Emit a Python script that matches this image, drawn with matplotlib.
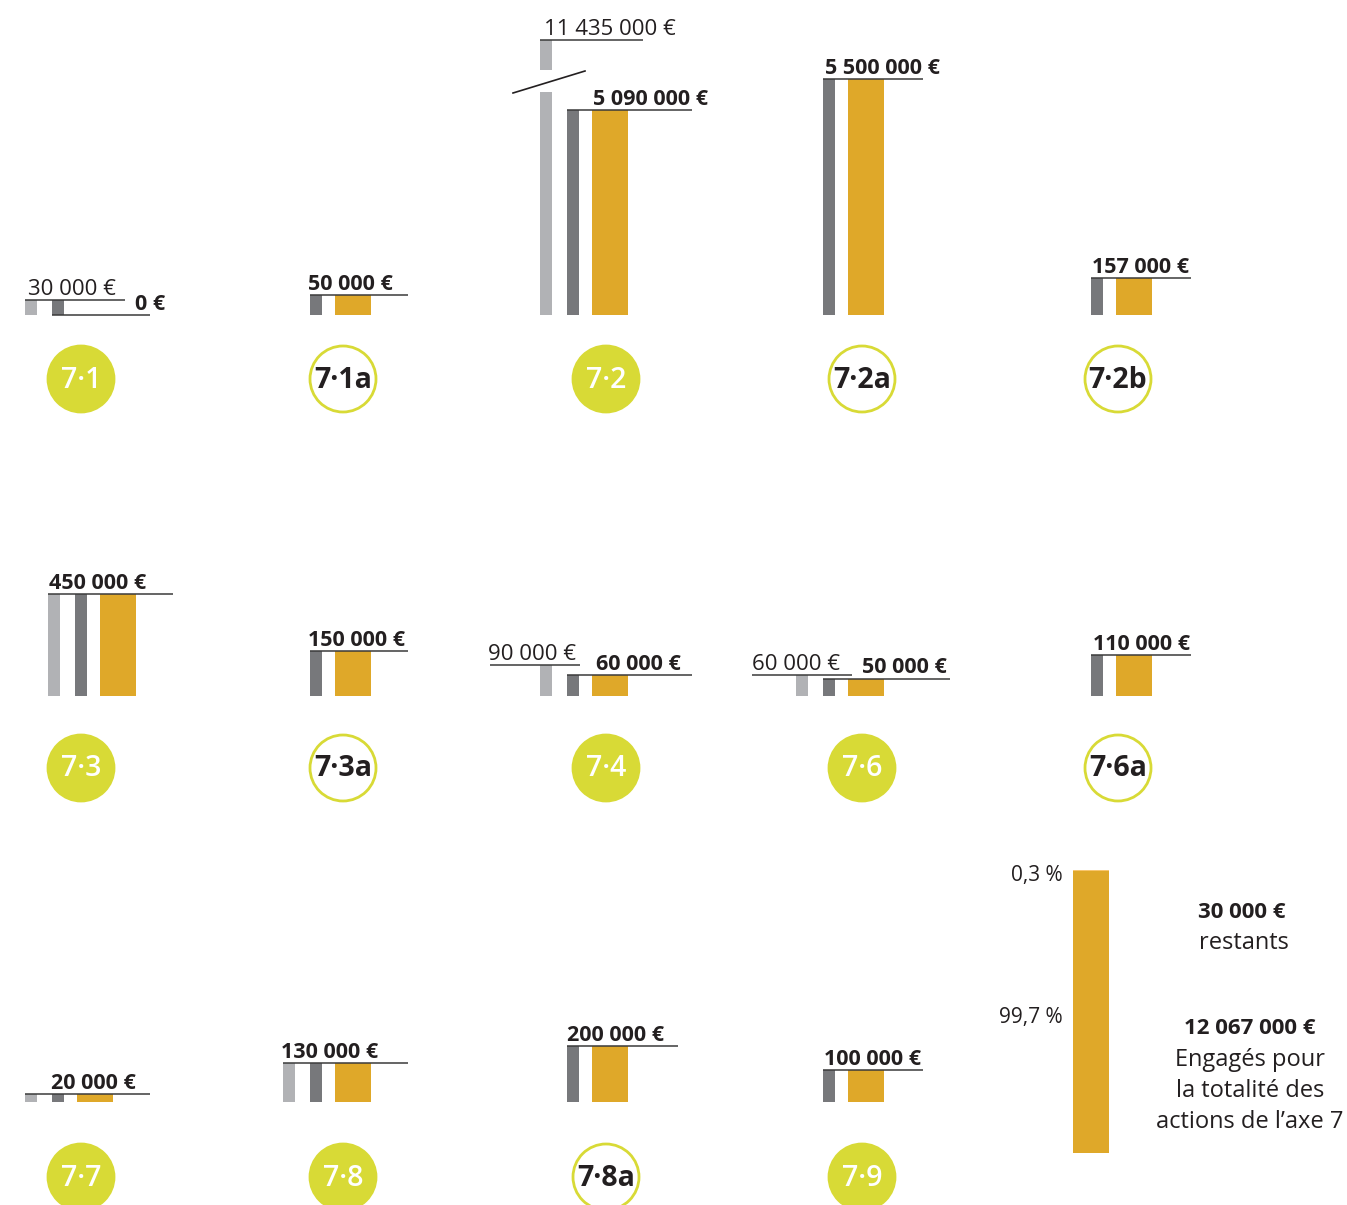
import matplotlib
matplotlib.use("Agg")
import matplotlib.pyplot as plt
from matplotlib.patches import Circle

plt.rcParams['font.family'] = ['Open Sans', 'DejaVu Sans']

W, H = 1347, 1205

# --- data -------------------------------------------------------------
codes = ['7.1', '7.1a', '7.2', '7.2a', '7.2b',
         '7.3', '7.3a', '7.4', '7.6', '7.6a',
         '7.7', '7.8', '7.8a', '7.9']
planned = [30000, None, 11435000, None, None,
           450000, None, 90000, 60000, None,
           20000, 130000, None, None]
revised = [30000, 50000, 5090000, 5500000, 157000,
           450000, 150000, 60000, 50000, 110000,
           20000, 130000, 200000, 100000]
committed = [0, 50000, 5090000, 5500000, 157000,
             450000, 150000, 60000, 50000, 110000,
             20000, 130000, 200000, 100000]

share_values = [99.7, 0.3]
share_labels = ['99,7 %', '0,3 %']
total_committed = 12067000
total_left = 30000

# --- layout (pixels) ----------------------------------------------------
row_of = [0, 0, 0, 0, 0, 1, 1, 1, 1, 1, 2, 2, 2, 2]
baselines = [315, 696, 1102]
circle_rows = [379, 768, 1177]
circle_x = [81, 343, 606, 862, 1118] * 2 + [81, 343, 606, 862]
orange_x = [77, 335, 592, 848, 1116, 100, 335, 592, 848, 1116, 77, 335, 592, 848]
max_px = [15, 20, 205, 236, 37, 102, 45, 31, 21, 41, 8, 39, 56, 32]
line_end = [150, 408, 692, 923, 1191, 173, 408, 692, 950, 1191, 150, 408, 678, 923]
label_x = [135, 308, 593, 825, 1092, 49, 308, 596, 862, 1093, 51, 281, 567, 824]
# separate label for the planned amount: (line start, line end, text x)
planned_line = {0: (25, 125, 28), 2: (544, 643, 544), 7: (490, 580, 488), 8: (752, 852, 752)}
broken = {2: (92, 40, 70)}  # lower axes top, upper part top / bottom

LIGHT = '#b1b2b5'
DARK = '#77787b'
ORANGE = '#dfa829'
PALE = '#f8c66f'
GREEN = '#d8da36'
INK = '#231f20'


def fmt(v):
    return f"{v:,}".replace(',', ' ') + ' €'


def strip(bottom_px, height_px):
    ax = fig.add_axes([0, 1 - bottom_px / H, 1, height_px / H])
    ax.set_xlim(0, W)
    ax.axis('off')
    ax.patch.set_alpha(0)
    return ax


def value_line(ax, x0, x1, v, text, tx, bold):
    ax.plot([x0, x1], [v, v], color='#3a3a3a', lw=1.1, clip_on=False,
            solid_capstyle='butt', zorder=5)
    ax.annotate(text, xy=(tx, v), xytext=(0, 5), textcoords='offset pixels',
                ha='left', va='baseline', fontsize=15.5 if bold else 16,
                fontweight='bold' if bold else 'normal', color=INK,
                annotation_clip=False)


fig = plt.figure(figsize=(W / 100, H / 100), dpi=100)
bg = fig.add_axes([0, 0, 1, 1])
bg.set_xlim(0, W)
bg.set_ylim(H, 0)
bg.axis('off')

for i, code in enumerate(codes):
    base = baselines[row_of[i]]
    shown = [v for v in (planned[i], revised[i], committed[i]) if v]
    if i in broken:
        shown = [revised[i], committed[i]]
    scale = max_px[i] / max(shown)  # px per euro
    ax_h = base - broken[i][0] if i in broken else max_px[i]
    ax = strip(base, ax_h)
    ax.set_ylim(0, ax_h / scale)

    ox = orange_x[i]
    dx, lx = ox - 25, ox - 52
    if planned[i] is not None:
        ax.bar(lx, planned[i], 12, align='edge', color=LIGHT, lw=0)
    ax.bar(dx, revised[i], 12, align='edge', color=DARK, lw=0)
    ax.bar(ox, committed[i], 36, align='edge', color=ORANGE, lw=0)

    if i in broken:
        _, top, bot = broken[i]
        up = strip(bot, bot - top)
        up.set_ylim(planned[i] - (bot - top) / scale, planned[i])
        up.bar(lx, planned[i], 12, align='edge', color=LIGHT, lw=0)
        x0, x1, tx = planned_line[i]
        value_line(up, lx, x1, planned[i], fmt(planned[i]), tx, False)
        bg.plot([513, 585], [93, 71], color=INK, lw=1.2)
    elif i in planned_line:
        x0, x1, tx = planned_line[i]
        value_line(ax, x0, x1, planned[i], fmt(planned[i]), tx, False)

    start = lx if planned[i] == committed[i] else dx
    value_line(ax, start, line_end[i], committed[i], fmt(committed[i]), label_x[i], True)

    # code badge
    full = code[-1].isdigit()
    cy = circle_rows[row_of[i]]
    bg.add_patch(Circle((circle_x[i], cy), 33, fc=GREEN if full else 'white',
                        ec=GREEN, lw=2))
    bg.text(circle_x[i], cy + 1, code.replace('.', '·'), ha='center', va='center',
            fontsize=20.5, color='white' if full else INK,
            fontweight='semibold' if full else 'bold')

# --- share of the axis budget ------------------------------------------
sax = fig.add_axes([1073 / W, 1 - 1153 / H, 36 / W, 283 / H])
sax.bar(0, share_values[0], 1, align='edge', color=ORANGE, lw=0)
sax.bar(0, share_values[1], 1, bottom=share_values[0], align='edge', color=PALE, lw=0)
sax.set_xlim(0, 1)
sax.set_ylim(0, 100)
sax.axis('off')
sax.annotate(share_labels[1], xy=(0, 100), xytext=(-10, -5), textcoords='offset pixels',
             ha='right', va='center', fontsize=15, color=INK, annotation_clip=False)
sax.annotate(share_labels[0], xy=(0, share_values[0] / 2), xytext=(-10, -6),
             textcoords='offset pixels', ha='right', va='center', fontsize=15,
             color=INK, annotation_clip=False)

bg.text(1242, 912, fmt(total_left), ha='center', va='center', fontsize=16,
        fontweight='bold', color=INK)
bg.text(1244, 943, 'restants', ha='center', va='center', fontsize=17, color=INK)
bg.text(1250, 1028, fmt(total_committed), ha='center', va='center', fontsize=16,
        fontweight='bold', color=INK)
bg.text(1250, 1091, 'Engagés pour\nla totalité des\nactions de l’axe 7', ha='center',
        va='center', fontsize=17, color=INK, linespacing=1.38)

fig.savefig('out.png', dpi=100)
